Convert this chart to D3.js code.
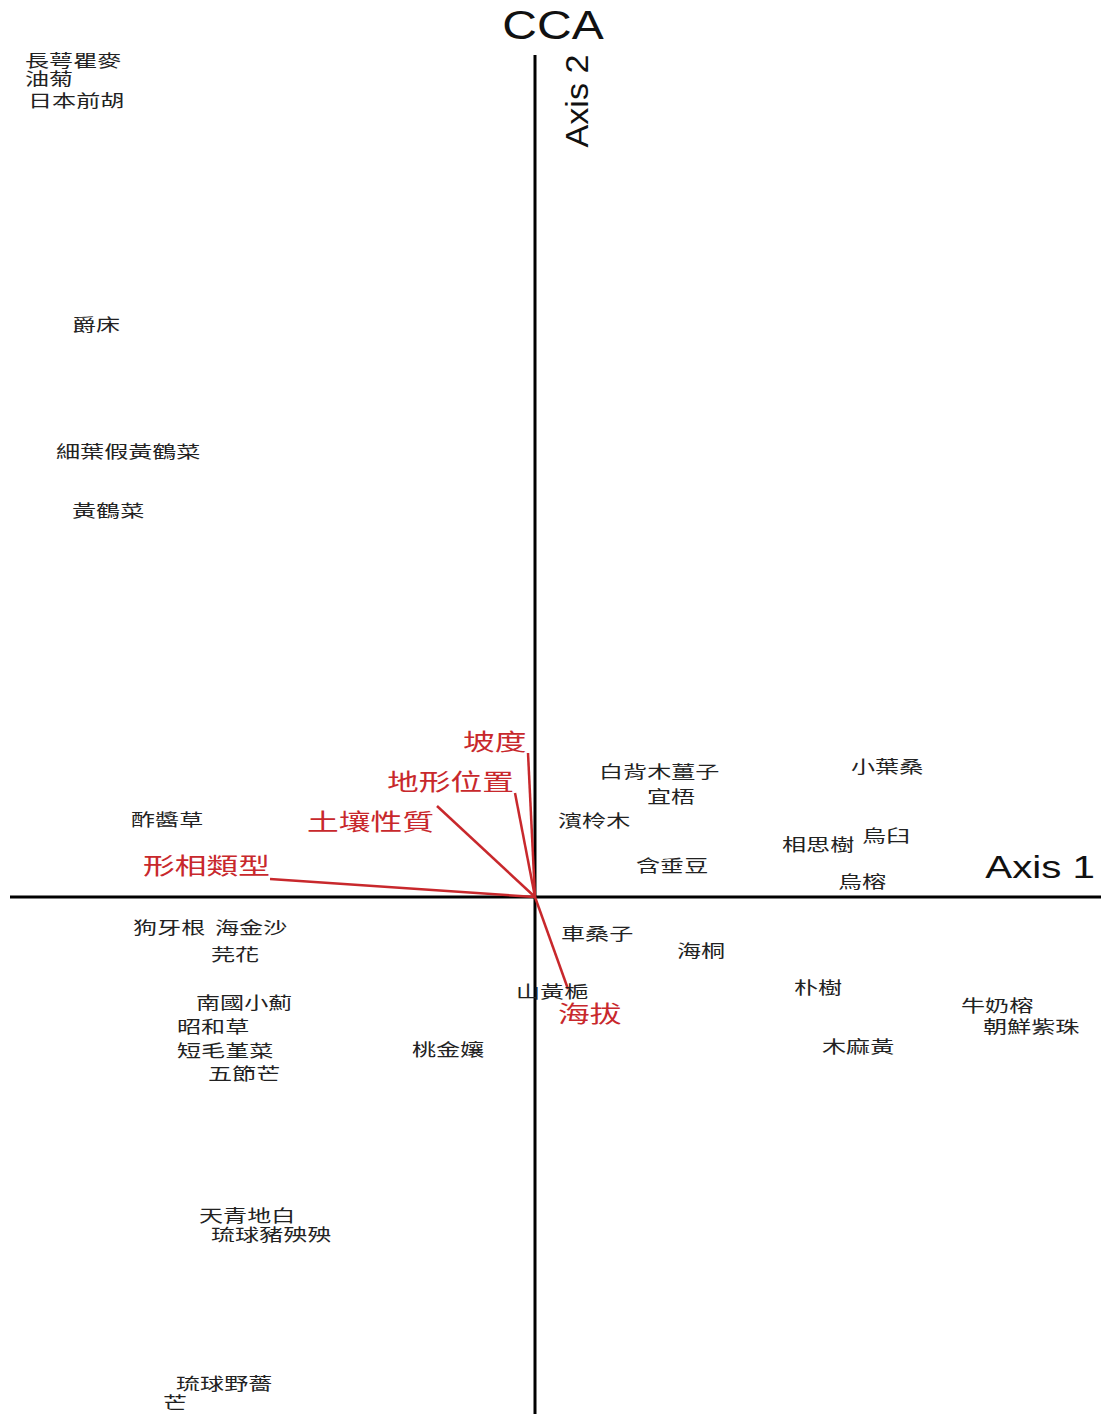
<!DOCTYPE html>
<html>
<head>
<meta charset="utf-8">
<script src="https://cdn.jsdelivr.net/npm/d3@7"></script>
<style>
  body { margin: 0; background: #fff; }
  svg { display: block; }
  .sp { font-family: "Noto Sans CJK TC", sans-serif; font-size: 16.5px; fill: #222; }
  .env { font-family: "Noto Sans CJK TC", sans-serif; font-size: 23px; fill: #c8282c; }
  .ttl { font-family: "Liberation Sans", Arial, sans-serif; fill: #111; }
</style>
</head>
<body>
<div id="chart"></div>
<script>
// species scores (axis 1, axis 2)
var species = ["長萼瞿麥","油菊","日本前胡","爵床","細葉假黃鶴菜","黃鶴菜","酢醬草",
  "白背木薑子","宜梧","濱柃木","小葉桑","相思樹","烏臼","含垂豆","烏榕",
  "狗牙根","海金沙","芫花","南國小薊","昭和草","短毛堇菜","五節芒","桃金孃",
  "車桑子","海桐","山黃梔","朴樹","牛奶榕","朝鮮紫珠","木麻黃",
  "天青地白","琉球豬殃殃","琉球野薔","芒"];
var ax1 = [-5.10,-5.10,-5.07,-4.63,-4.79,-4.63,-4.04,
  0.64,1.12,0.23,3.16,2.47,3.27,1.01,3.03,
  -4.02,-3.20,-3.24,-3.39,-3.58,-3.58,-3.27,-1.23,
  0.26,1.42,-0.19,2.59,4.26,4.48,2.87,
  -3.36,-3.24,-3.59,-3.72];
var ax2 = [8.36,8.18,7.96,5.72,4.45,3.86,0.77,
  1.25,1.00,0.76,1.30,0.52,0.61,0.31,0.15,
  -0.31,-0.31,-0.58,-1.06,-1.30,-1.54,-1.77,-1.53,
  -0.37,-0.54,-0.95,-0.91,-1.09,-1.30,-1.50,
  -3.19,-3.38,-4.87,-5.06];

// environmental vectors
var envNames = ["坡度","地形位置","土壤性質","形相類型","海拔"];
var envX = [-0.07,-0.20,-0.98,-2.65,0.33];
var envY = [1.44,1.04,0.91,0.18,-0.92];
// label anchor (left edge, middle)
var envLabX = [-0.72,-1.48,-2.28,-3.92,0.23];
var envLabY = [1.55,1.15,0.75,0.31,-1.17];

var w = 1101, h = 1414;
var x = d3.scaleLinear().domain([-5.25, 5.66]).range([10, 1101]);
var y = d3.scaleLinear().domain([8.42, -5.17]).range([55, 1414]);

var svg = d3.select('#chart').append('svg')
    .attr('width', w).attr('height', h);

// axes
svg.append('line')
    .attr('x1', x(-5.25)).attr('x2', x(5.66))
    .attr('y1', y(0)).attr('y2', y(0))
    .attr('stroke', '#000').attr('stroke-width', 3);
svg.append('line')
    .attr('x1', x(0)).attr('x2', x(0))
    .attr('y1', y(8.42)).attr('y2', y(-5.17))
    .attr('stroke', '#000').attr('stroke-width', 3);

svg.append('text').attr('class', 'ttl')
    .attr('transform', 'translate(553,39) scale(1.2,1)')
    .attr('text-anchor', 'middle')
    .style('font-size', '40px')
    .text('CCA');
svg.append('text').attr('class', 'ttl')
    .attr('transform', 'translate(' + (x(0) + 53) + ',' + 101 + ') rotate(-90) scale(1.1,1)')
    .attr('text-anchor', 'middle')
    .style('font-size', '31px')
    .text('Axis 2');
svg.append('text').attr('class', 'ttl')
    .attr('transform', 'translate(1095,878) scale(1.3,1)')
    .attr('text-anchor', 'end')
    .style('font-size', '31px')
    .text('Axis 1');

// vectors
var env = envNames.map(function(n, i) {
  return {name: n, x: envX[i], y: envY[i], lx: envLabX[i], ly: envLabY[i]};
});
svg.selectAll('line.vec')
    .data(env).enter()
    .append('line').attr('class', 'vec')
    .attr('x1', x(0)).attr('y1', y(0))
    .attr('x2', d => x(d.x)).attr('y2', d => y(d.y))
    .attr('stroke', '#c8282c').attr('stroke-width', 2.5);
svg.selectAll('text.env')
    .data(env).enter()
    .append('text').attr('class', 'env')
    .attr('transform', d => 'translate(' + x(d.lx) + ',' + y(d.ly) + ') scale(1.38,1)')
    .attr('dy', '0.35em')
    .text(d => d.name);

// species labels
var sp = species.map(function(n, i) { return {name: n, x: ax1[i], y: ax2[i]}; });
svg.selectAll('text.sp')
    .data(sp).enter()
    .append('text').attr('class', 'sp')
    .attr('transform', d => 'translate(' + x(d.x) + ',' + y(d.y) + ') scale(1.46,1)')
    .attr('dy', '0.35em')
    .text(d => d.name);
</script>
</body>
</html>
